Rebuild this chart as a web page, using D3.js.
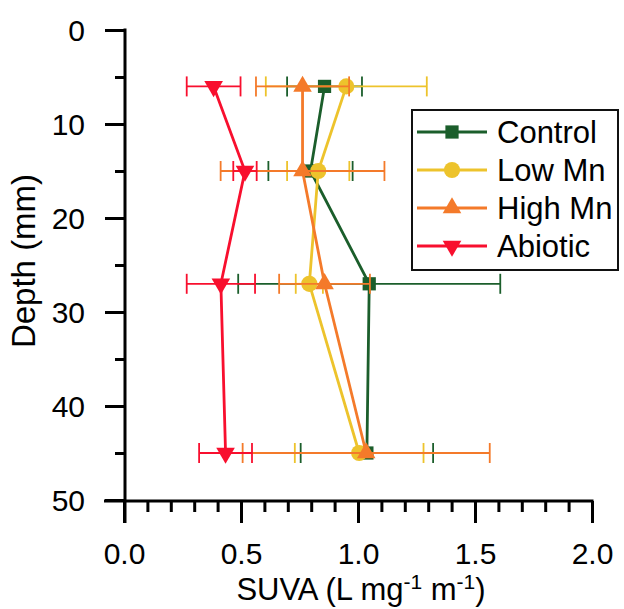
<!DOCTYPE html>
<html><head><meta charset="utf-8">
<script src="https://cdn.jsdelivr.net/npm/d3@7"></script>
<style>body{margin:0;background:#fff}svg{display:block;font-family:"Liberation Sans",Arial,sans-serif}</style>
</head><body><svg id="c" width="624" height="609"></svg>
<script>
const depths = [6, 15, 27, 45];
const seriesNames = ["Control", "Low Mn", "High Mn", "Abiotic"];
const controlVals = [0.857, 0.797, 1.048, 1.038];
const controlErr  = [0.160, 0.180, 0.560, 0.283];
const lowMnVals   = [0.950, 0.830, 0.792, 1.005];
const lowMnErr    = [0.344, 0.133, 0.058, 0.275];
const highMnVals  = [0.763, 0.763, 0.857, 1.035];
const highMnErr   = [0.199, 0.350, 0.194, 0.528];
const abioticVals = [0.383, 0.517, 0.414, 0.434];
const abioticErr  = [0.115, 0.050, 0.146, 0.113];
const xTicks = [0, 0.5, 1.0, 1.5, 2.0];
const yTicks = [0, 10, 20, 30, 40, 50];

const colors = ["#1b5e2b", "#edc32c", "#f47a2a", "#f80f2e"];
const symbols = [
  {t: d3.symbolSquare, s: 175, r: 0},
  {t: d3.symbolCircle, s: 205, r: 0},
  {t: d3.symbolTriangle, s: 150, r: 0},
  {t: d3.symbolTriangle, s: 150, r: 180}
];
const vals = [controlVals, lowMnVals, highMnVals, abioticVals];
const errs = [controlErr, lowMnErr, highMnErr, abioticErr];

const svg = d3.select("#c");
const x = d3.scaleLinear().domain([0, 2]).range([124, 592]);
const y = d3.scaleLinear().domain([0, 50]).range([30, 500]);

const yAxis = d3.axisLeft(y).tickValues(yTicks).tickSize(20).tickPadding(20).tickFormat(d3.format("d"));
const yMinor = d3.axisLeft(y).tickValues(d3.range(5, 50, 10)).tickSize(10).tickFormat("");
const xAxis = d3.axisBottom(x).tickValues(xTicks).tickSize(22).tickPadding(20).tickFormat(d3.format(".1f"));
const xMinor = d3.axisBottom(x).tickValues(d3.range(0, 2.0001, 0.1).filter((d,i)=> i%5!==0)).tickSize(11).tickFormat("");

function styleAxis(g, dy){
  g.select(".domain").remove();
  g.selectAll("line").attr("stroke","#000").attr("stroke-width",3);
  g.selectAll("text").attr("font-size",30).attr("fill","#000")
    .attr("font-family","Liberation Sans, Arial, sans-serif").attr("dy", dy);
}
svg.append("g").attr("transform","translate(125,0)").call(yAxis).call(styleAxis, "0.35em");
svg.append("g").attr("transform","translate(125,0)").call(yMinor).call(styleAxis, "0.35em");
svg.append("g").attr("transform","translate(0,501)").call(xAxis).call(styleAxis, "0.71em");
svg.append("g").attr("transform","translate(0,501)").call(xMinor).call(styleAxis, "0.71em");
svg.append("line").attr("x1",125).attr("x2",125).attr("y1",28.5).attr("y2",523).attr("stroke","#000").attr("stroke-width",3);
svg.append("line").attr("x1",104).attr("x2",593.5).attr("y1",501).attr("y2",501).attr("stroke","#000").attr("stroke-width",3);

svg.append("text").attr("x",361).attr("y",600).attr("text-anchor","middle").attr("font-size",31)
  .html('SUVA (L mg<tspan dy="-11" font-size="21">-1</tspan><tspan dy="11"> m</tspan><tspan dy="-11" font-size="21">-1</tspan><tspan dy="11">)</tspan>');
svg.append("text").attr("transform","translate(35,261) rotate(-90)").attr("text-anchor","middle").attr("font-size",33).text("Depth (mm)");

const capH = 10;
vals.forEach((v, si) => {
  const g = svg.append("g");
  const pts = depths.map((d,i)=>({d, v:v[i], e:errs[si][i]}));
  pts.forEach(p=>{
    g.append("line").attr("x1",x(p.v-p.e)).attr("x2",x(p.v+p.e)).attr("y1",y(p.d)).attr("y2",y(p.d))
      .attr("stroke",colors[si]).attr("stroke-width",1.8);
    [p.v-p.e, p.v+p.e].forEach(c=>{
      g.append("line").attr("x1",x(c)).attr("x2",x(c)).attr("y1",y(p.d)-capH).attr("y2",y(p.d)+capH)
        .attr("stroke",colors[si]).attr("stroke-width",1.8);
    });
  });
  g.append("path").datum(pts).attr("fill","none").attr("stroke",colors[si]).attr("stroke-width",2.8)
    .attr("d", d3.line().x(p=>x(p.v)).y(p=>y(p.d)));
  const sym = d3.symbol().type(symbols[si].t).size(symbols[si].s);
  g.selectAll("path.m").data(pts).join("path").attr("class","m")
    .attr("d", sym).attr("fill",colors[si])
    .attr("transform", p=>`translate(${x(p.v)},${y(p.d)}) rotate(${symbols[si].r})`);
});

const lg = svg.append("g");
lg.append("rect").attr("x",412).attr("y",110).attr("width",206).attr("height",160)
  .attr("fill","#fff").attr("stroke","#111").attr("stroke-width",2);
const rowY = [132, 170, 208, 246];
seriesNames.forEach((n, si)=>{
  lg.append("line").attr("x1",417).attr("x2",487).attr("y1",rowY[si]).attr("y2",rowY[si])
    .attr("stroke",colors[si]).attr("stroke-width",2.8);
  lg.append("path").attr("d", d3.symbol().type(symbols[si].t).size(symbols[si].s)).attr("fill",colors[si])
    .attr("transform",`translate(452,${rowY[si]}) rotate(${symbols[si].r})`);
  lg.append("text").attr("x",497).attr("y",rowY[si]).attr("dy","0.35em").attr("font-size",31).text(n);
});
</script></body></html>
